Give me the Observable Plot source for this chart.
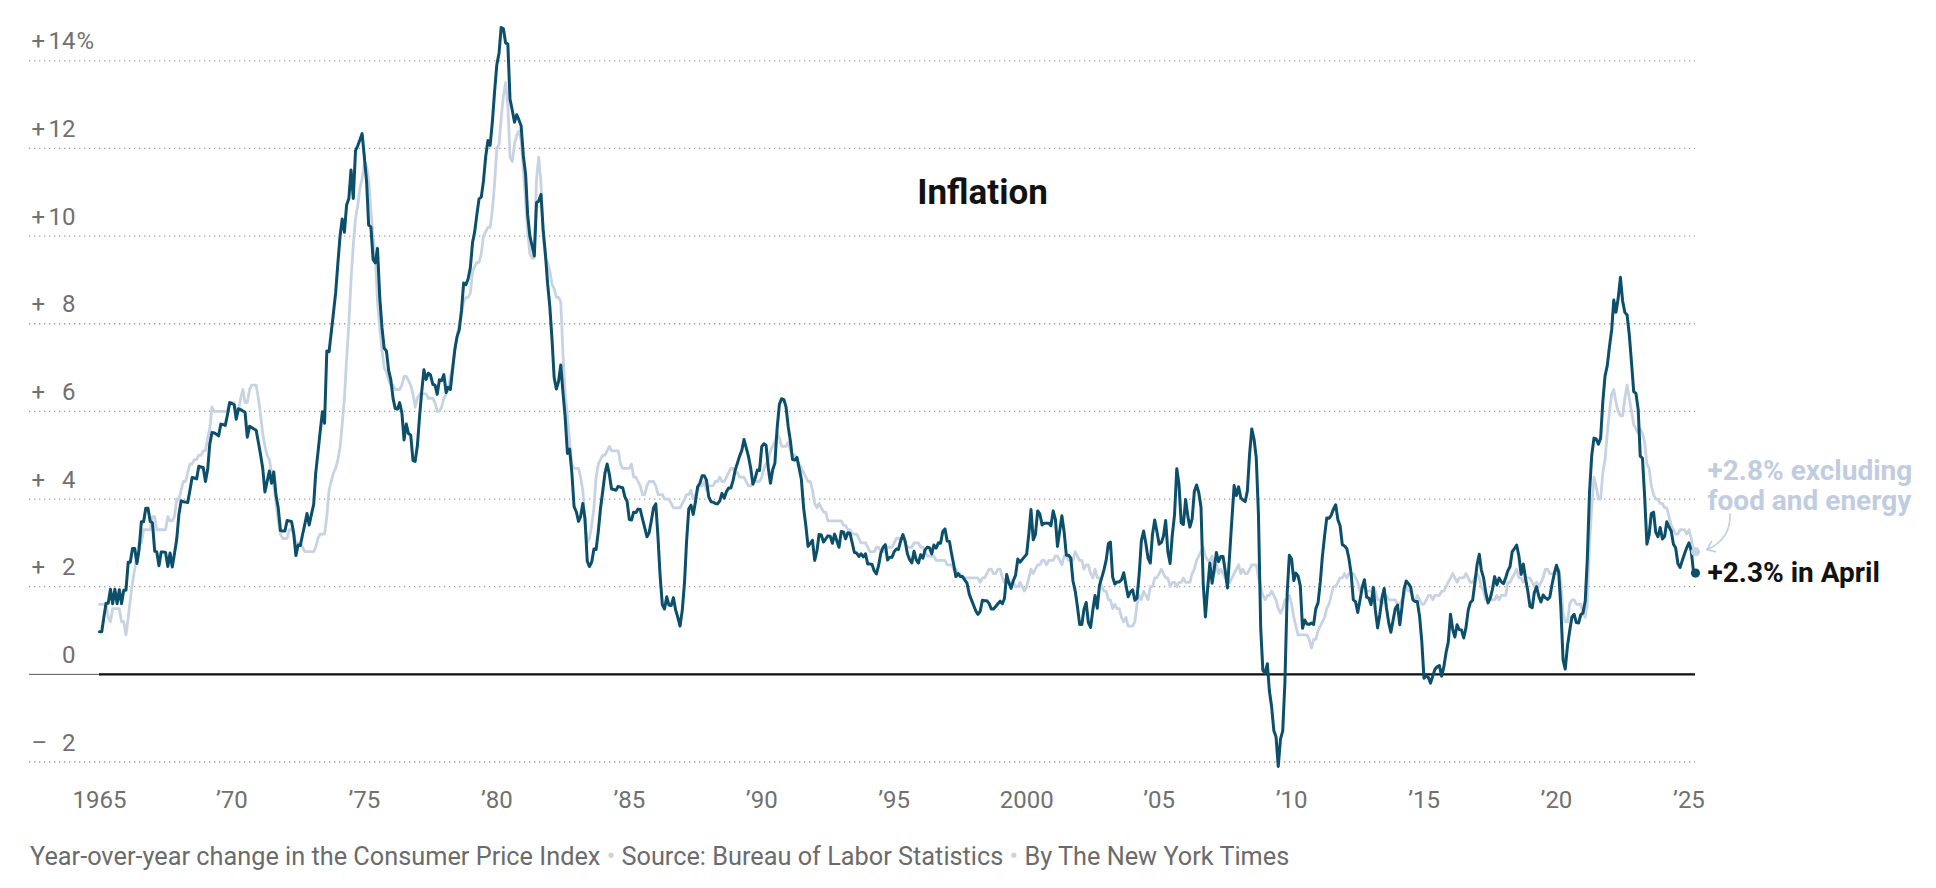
<!DOCTYPE html>
<html>
<head>
<meta charset="utf-8">
<script src="https://cdn.jsdelivr.net/npm/d3@7"></script>
<script src="https://cdn.jsdelivr.net/npm/@observablehq/plot@0.6"></script>
<style>
  body { margin: 0; background: #fff; font-family: Roboto, "Noto Sans", sans-serif; }
  #wrap { position: relative; width: 1936px; height: 888px; overflow: hidden; }
  #chart svg { display: block; }
  #caption { position: absolute; left: 30px; top: 844px; font-size: 25.3px; line-height: 25px; color: #6b6b6b; white-space: nowrap; }
  #caption .sep { color: #d2d2d2; }
</style>
</head>
<body>
<div id="wrap">
  <div id="chart"></div>
  <div id="caption">Year-over-year change in the Consumer Price Index <span class="sep">•</span> Source: Bureau of Labor Statistics <span class="sep">•</span> By The New York Times</div>
</div>
<script>
// ---- Data: monthly year-over-year change (%), starting January 1965 ----
const startYear = 1965;
const lastMonthName = "April";

const headline = [
  0.97,0.97,1.29,1.62,1.62,1.94,1.61,1.94,1.61,1.93,1.61,1.92,
  1.92,2.56,2.56,2.87,2.87,2.53,2.85,3.48,3.48,3.79,3.79,3.49,
  3.46,2.81,2.80,2.48,2.79,2.79,2.78,2.46,2.77,2.45,2.76,3.07,
  3.65,3.96,3.94,3.93,3.92,4.20,4.49,4.48,4.46,4.75,4.73,4.72,
  4.40,4.68,5.25,5.52,5.51,5.48,5.44,5.71,5.70,5.68,5.93,6.20,
  6.18,6.15,5.82,6.06,6.04,6.01,5.98,5.41,5.66,5.63,5.60,5.57,
  5.29,5.00,4.71,4.16,4.40,4.64,4.36,4.62,4.08,3.80,3.28,3.27,
  3.27,3.51,3.50,3.49,3.23,2.71,2.95,2.94,3.19,3.42,3.67,3.41,
  3.65,3.88,4.59,5.06,5.53,5.99,5.73,7.38,7.36,7.80,8.25,8.71,
  9.39,10.02,10.39,10.09,10.71,10.86,11.51,10.86,11.95,12.06,12.20,12.34,
  11.80,11.23,10.25,10.21,9.47,9.39,9.72,8.60,7.91,7.44,7.38,6.94,
  6.72,6.29,6.07,6.05,6.20,5.97,5.35,5.71,5.49,5.46,4.88,4.86,
  5.22,5.91,6.44,6.95,6.73,6.87,6.83,6.62,6.60,6.39,6.72,6.70,
  6.84,6.43,6.55,6.50,6.96,7.41,7.70,7.86,8.31,8.93,8.89,9.02,
  9.28,9.86,10.09,10.49,10.85,10.89,11.26,11.82,12.18,12.07,12.61,13.29,
  13.91,14.18,14.76,14.73,14.41,14.38,13.13,12.87,12.60,12.77,12.65,12.52,
  11.83,11.41,10.49,10.00,9.78,9.55,10.76,10.80,10.95,10.14,9.59,8.92,
  8.39,7.62,6.78,6.51,6.68,7.06,6.44,5.85,5.04,5.14,4.59,3.83,
  3.71,3.49,3.60,3.90,3.55,2.58,2.46,2.56,2.86,2.85,3.27,3.79,
  4.19,4.60,4.80,4.56,4.23,4.22,4.20,4.29,4.27,4.26,4.05,3.95,
  3.53,3.52,3.70,3.69,3.77,3.76,3.55,3.35,3.14,3.23,3.51,3.80,
  3.89,3.11,2.26,1.59,1.49,1.77,1.58,1.57,1.75,1.47,1.30,1.10,
  1.46,2.10,3.03,3.78,3.86,3.65,3.93,4.28,4.36,4.53,4.53,4.43,
  4.05,3.94,3.93,3.90,3.89,3.96,4.13,4.02,4.17,4.25,4.25,4.42,
  4.67,4.83,4.98,5.11,5.36,5.17,4.98,4.71,4.34,4.47,4.66,4.65,
  5.20,5.26,5.23,4.71,4.36,4.67,4.82,5.62,6.16,6.29,6.27,6.11,
  5.65,5.31,4.90,4.89,4.95,4.70,4.45,3.80,3.39,2.92,2.99,3.06,
  2.60,2.82,3.19,3.18,3.02,3.09,3.16,3.15,2.99,3.20,3.05,2.90,
  3.26,3.25,3.09,3.23,3.22,3.00,2.78,2.77,2.69,2.75,2.68,2.75,
  2.52,2.52,2.51,2.36,2.29,2.49,2.77,2.90,2.96,2.61,2.67,2.67,
  2.80,2.86,2.85,3.05,3.19,3.04,2.76,2.62,2.54,2.81,2.61,2.54,
  2.73,2.65,2.84,2.90,2.89,2.75,2.95,2.88,3.00,2.99,3.26,3.32,
  3.04,3.03,2.76,2.50,2.23,2.30,2.23,2.23,2.15,2.08,1.83,1.70,
  1.57,1.44,1.37,1.44,1.69,1.68,1.68,1.62,1.49,1.49,1.55,1.61,
  1.67,1.61,1.73,2.28,2.09,1.96,2.14,2.26,2.63,2.56,2.62,2.68,
  2.74,3.22,3.76,3.07,3.19,3.73,3.66,3.41,3.45,3.45,3.45,3.39,
  3.73,3.53,2.92,3.27,3.62,3.25,2.72,2.72,2.65,2.13,1.90,1.55,
  1.14,1.14,1.48,1.64,1.18,1.07,1.46,1.80,1.51,2.03,2.20,2.38,
  2.60,2.98,3.02,2.22,2.06,2.11,2.11,2.16,2.32,2.04,1.77,1.88,
  1.93,1.69,1.74,2.29,3.05,3.27,2.99,2.65,2.54,3.19,3.52,3.26,
  2.97,3.01,3.15,3.51,2.80,2.53,3.17,3.64,4.69,4.35,3.46,3.42,
  3.99,3.60,3.36,3.55,4.17,4.32,4.15,3.82,2.06,1.31,1.97,2.54,
  2.08,2.42,2.78,2.57,2.69,2.69,2.36,1.97,2.76,3.54,4.31,4.08,
  4.28,4.03,3.98,3.94,4.18,5.02,5.60,5.37,4.94,3.66,1.07,0.09,
  0.03,0.24,-0.38,-0.74,-1.28,-1.43,-2.10,-1.48,-1.29,-0.18,1.84,2.72,
  2.63,2.14,2.31,2.24,2.02,1.05,1.24,1.15,1.14,1.17,1.14,1.50,
  1.63,2.11,2.68,3.16,3.57,3.56,3.63,3.77,3.87,3.53,3.39,2.96,
  2.93,2.87,2.65,2.30,1.70,1.66,1.41,1.69,1.99,2.16,1.76,1.74,
  1.59,1.98,1.47,1.06,1.36,1.75,1.96,1.52,1.18,0.96,1.24,1.50,
  1.58,1.13,1.51,1.95,2.13,2.07,1.99,1.70,1.66,1.66,1.32,0.76,
  -0.09,-0.03,-0.07,-0.20,-0.04,0.12,0.17,0.20,-0.04,0.17,0.50,0.73,
  1.37,1.02,0.85,1.13,1.02,1.01,0.83,1.06,1.46,1.64,1.69,2.07,
  2.50,2.74,2.38,2.20,1.87,1.63,1.73,1.94,2.23,2.04,2.20,2.11,
  2.07,2.21,2.36,2.46,2.80,2.87,2.95,2.70,2.28,2.52,2.18,1.91,
  1.55,1.52,1.86,2.00,1.79,1.65,1.81,1.75,1.71,1.76,2.05,2.29,
  2.49,2.33,1.54,0.33,0.12,0.65,0.99,1.31,1.37,1.18,1.17,1.36,
  1.40,1.68,2.62,4.16,4.99,5.39,5.37,5.25,5.39,6.22,6.81,7.04,
  7.48,7.87,8.54,8.26,8.58,9.06,8.52,8.26,8.20,7.75,7.11,6.45,
  6.41,6.04,4.98,4.93,4.05,2.97,3.18,3.67,3.70,3.24,3.14,3.35,
  3.09,3.15,3.48,3.36,3.27,2.97,2.89,2.53,2.44,2.60,2.75,2.89,
  3.00,2.82,2.39,2.31
];

const core = [
  1.6,1.6,1.6,1.6,1.3,1.2,1.5,1.5,1.5,1.5,1.2,1.2,
  0.9,1.3,1.7,2.1,2.4,2.7,3.0,3.0,3.3,3.3,3.3,3.3,
  3.6,3.6,3.3,3.3,3.3,3.3,3.3,3.6,3.5,3.5,3.6,4.0,
  4.0,4.2,4.4,4.4,4.6,4.8,4.8,4.9,4.9,5.0,5.0,5.1,
  5.1,5.4,5.6,6.1,6.0,6.0,6.0,6.0,6.0,6.0,6.0,6.2,
  6.2,6.2,6.0,6.0,6.3,6.5,6.2,6.2,6.5,6.6,6.6,6.6,
  6.3,5.9,5.5,5.2,5.0,4.9,4.6,4.3,3.9,3.5,3.2,3.1,
  3.1,3.1,3.3,3.3,3.2,3.0,3.0,3.0,2.9,2.8,2.8,2.8,
  2.8,2.8,2.9,3.1,3.2,3.2,3.2,3.6,4.2,4.4,4.6,4.7,
  4.9,5.2,5.7,6.3,7.2,8.0,9.0,9.8,10.4,10.7,11.1,11.3,
  11.7,11.6,11.3,10.6,10.0,9.5,8.5,7.9,7.4,7.0,6.9,6.7,
  6.6,6.6,6.5,6.5,6.5,6.6,6.8,6.8,6.7,6.6,6.4,6.1,
  6.3,6.4,6.4,6.4,6.4,6.3,6.3,6.3,6.2,6.0,6.0,6.1,
  6.3,6.4,6.5,6.8,7.0,7.4,7.7,8.0,8.2,8.5,8.6,8.6,
  8.7,9.2,9.3,9.4,9.4,9.6,10.0,10.1,10.2,10.2,10.6,11.2,
  12.0,12.1,12.7,13.2,13.5,13.0,11.8,11.7,12.1,12.3,12.4,12.2,
  11.5,10.8,10.1,9.6,9.5,9.5,11.3,11.8,11.2,10.0,9.5,9.4,
  9.2,8.9,8.8,8.6,8.6,8.5,7.3,6.4,5.9,5.3,4.8,4.7,
  4.7,4.7,4.5,4.2,3.4,3.0,3.1,3.4,3.8,4.5,4.8,4.9,
  5.0,5.0,5.1,5.2,5.1,5.1,5.1,5.1,4.8,4.7,4.7,4.7,
  4.7,4.8,4.5,4.5,4.4,4.3,4.1,4.1,4.3,4.4,4.4,4.4,
  4.3,4.1,4.1,4.1,4.0,4.0,4.0,3.9,3.8,3.8,3.8,3.8,
  3.9,4.0,4.1,4.1,4.2,4.0,4.1,4.2,4.3,4.3,4.4,4.2,
  4.3,4.3,4.3,4.4,4.4,4.5,4.4,4.4,4.5,4.6,4.7,4.7,
  4.6,4.6,4.5,4.5,4.5,4.4,4.3,4.3,4.4,4.4,4.4,4.4,
  4.5,4.7,4.8,4.9,5.1,5.2,5.3,5.5,5.4,5.2,5.2,5.2,
  5.3,5.1,5.0,5.0,4.9,4.8,4.7,4.6,4.5,4.4,4.4,4.2,
  3.9,3.8,3.9,3.8,3.7,3.7,3.5,3.5,3.5,3.5,3.5,3.5,
  3.5,3.4,3.4,3.3,3.3,3.2,3.2,3.2,3.1,3.0,3.0,3.0,
  2.9,2.8,2.8,2.8,2.9,2.9,2.8,2.8,2.8,2.9,2.9,2.9,
  3.0,3.1,3.1,3.1,3.1,3.0,2.9,2.9,2.9,3.0,3.0,3.0,
  2.9,2.9,2.8,2.7,2.7,2.7,2.7,2.6,2.6,2.6,2.6,2.6,
  2.5,2.5,2.5,2.4,2.4,2.3,2.3,2.2,2.2,2.2,2.2,2.2,
  2.2,2.2,2.2,2.1,2.2,2.2,2.3,2.4,2.4,2.3,2.3,2.4,
  2.4,2.2,2.1,2.2,2.1,2.1,2.1,2.0,2.0,2.1,2.0,1.9,
  2.0,2.2,2.4,2.3,2.4,2.5,2.5,2.6,2.6,2.5,2.6,2.6,
  2.6,2.7,2.7,2.6,2.5,2.7,2.7,2.6,2.6,2.6,2.8,2.7,
  2.6,2.6,2.4,2.5,2.5,2.3,2.2,2.4,2.2,2.2,2.0,1.9,
  1.9,1.7,1.7,1.5,1.6,1.5,1.5,1.3,1.2,1.3,1.1,1.1,
  1.1,1.2,1.6,1.8,1.7,1.9,1.8,1.7,2.0,2.0,2.2,2.2,
  2.3,2.4,2.3,2.2,2.2,2.0,2.1,2.1,2.0,2.1,2.1,2.2,
  2.1,2.1,2.1,2.3,2.4,2.6,2.7,2.8,2.9,2.7,2.6,2.6,
  2.7,2.3,2.5,2.3,2.4,2.3,2.2,2.1,2.1,2.2,2.3,2.4,
  2.5,2.3,2.4,2.3,2.3,2.4,2.5,2.5,2.5,2.2,2.0,1.8,
  1.7,1.8,1.8,1.9,1.8,1.7,1.5,1.4,1.5,1.7,1.7,1.8,
  1.6,1.3,1.1,0.9,0.9,0.9,0.9,0.9,0.8,0.6,0.8,0.8,
  1.0,1.1,1.2,1.3,1.5,1.6,1.8,2.0,2.0,2.1,2.2,2.2,
  2.3,2.2,2.3,2.3,2.3,2.2,2.1,1.9,2.0,2.0,1.9,1.9,
  1.9,2.0,1.9,1.7,1.7,1.6,1.7,1.8,1.7,1.7,1.7,1.7,
  1.6,1.6,1.7,1.8,2.0,1.9,1.9,1.7,1.7,1.8,1.7,1.6,
  1.6,1.7,1.8,1.8,1.7,1.8,1.8,1.8,1.9,1.9,2.0,2.1,
  2.2,2.3,2.2,2.1,2.2,2.2,2.2,2.3,2.2,2.1,2.1,2.2,
  2.3,2.2,2.0,1.9,1.7,1.7,1.7,1.7,1.7,1.8,1.7,1.8,
  1.8,1.8,2.1,2.1,2.2,2.3,2.4,2.2,2.2,2.1,2.2,2.2,
  2.2,2.1,2.0,2.1,2.0,2.1,2.2,2.4,2.4,2.3,2.3,2.3,
  2.3,2.4,2.1,1.4,1.2,1.2,1.6,1.7,1.7,1.6,1.6,1.6,
  1.4,1.3,1.6,3.0,3.8,4.5,4.3,4.0,4.0,4.6,4.9,5.5,
  6.0,6.4,6.5,6.2,6.0,5.9,5.9,6.3,6.6,6.3,6.0,5.7,
  5.6,5.5,5.6,5.5,5.3,4.8,4.7,4.3,4.1,4.0,4.0,3.9,
  3.9,3.8,3.8,3.6,3.4,3.3,3.2,3.2,3.3,3.3,3.3,3.2,
  3.3,3.1,2.8,2.8
];

// ---- Axis ticks ----
const yTicks = [-2, 0, 2, 4, 6, 8, 10, 12, 14];
const yTickSigns = ["–", "", "+", "+", "+", "+", "+", "+", "+"];
const yTickNumbers = ["2", "0", "2", "4", "6", "8", "10", "12", "14"];
const xTickYears = [1965, 1970, 1975, 1980, 1985, 1990, 1995, 2000, 2005, 2010, 2015, 2020, 2025];
const xTickLabels = ["1965", "’70", "’75", "’80", "’85", "’90", "’95", "2000", "’05", "’10", "’15", "’20", "’25"];

// ---- Build table ----
const rows = headline.map((v, i) => ({
  date: new Date(Date.UTC(startYear, i, 1)),
  headline: v,
  core: core[i]
}));
const last = rows[rows.length - 1];
const xTicks = xTickYears.map((y, i) => ({date: new Date(Date.UTC(y, 0, 1)), label: xTickLabels[i]}));

const darkColor = "#0b4f6b";
const lightColor = "#c7d3e3";
const axisGray = "#707070";

const W = 1936, H = 840;
const chart = Plot.plot({
  width: W,
  height: H,
  marginLeft: 29,
  marginRight: W - 1695,
  marginTop: 60.3,
  marginBottom: H - 761.5,
  x: {type: "utc", domain: [rows[0].date, last.date], range: [99, 1695], axis: null},
  y: {domain: [-2, 14], axis: null},
  style: {fontFamily: "Roboto, 'Noto Sans', sans-serif", background: "white", overflow: "visible"},
  marks: [
    // dotted gridlines
    Plot.ruleY(yTicks.filter(d => d !== 0), {stroke: "#9c9c9c", strokeWidth: 1.3, strokeDasharray: "1.3 3.7"}),
    // zero line: thin part spanning the frame, thick baseline under the data
    Plot.ruleY([0], {stroke: "#555", strokeWidth: 1}),
    Plot.ruleY([0], {x1: () => rows[0].date, x2: () => last.date, stroke: "#111", strokeWidth: 2.2}),
    // y tick labels
    Plot.text(yTicks, {y: d => d, text: (d, i) => yTickSigns[i], frameAnchor: "left", lineAnchor: "middle", dx: 2, dy: -19, textAnchor: "start", fontSize: 24, fill: axisGray}),
    Plot.text(yTicks, {y: d => d, text: (d, i) => yTickNumbers[i], frameAnchor: "left", lineAnchor: "middle", dx: 46, dy: -19, textAnchor: "end", fontSize: 24, fill: axisGray}),
    Plot.text([yTicks[yTicks.length - 1]], {y: d => d, text: () => "%", frameAnchor: "left", lineAnchor: "middle", dx: 47, dy: -19, textAnchor: "start", fontSize: 24, fill: axisGray}),
    // x tick labels
    Plot.text(xTicks, {x: "date", text: "label", frameAnchor: "bottom", lineAnchor: "middle", dy: 38, textAnchor: "middle", fontSize: 24, fill: axisGray}),
    // series
    Plot.lineY(rows, {x: "date", y: "core", stroke: lightColor, strokeWidth: 2.8}),
    Plot.lineY(rows, {x: "date", y: "headline", stroke: darkColor, strokeWidth: 3}),
    Plot.dot([last], {x: "date", y: "core", r: 4.6, fill: lightColor}),
    Plot.dot([last], {x: "date", y: "headline", r: 4.6, fill: darkColor}),
    // labels
    Plot.text([last], {x: "date", y: "headline", text: d => `+${d.headline.toFixed(1)}% in ${lastMonthName}`, dx: 12, textAnchor: "start", lineAnchor: "middle", fontSize: 28, fontWeight: 700, fill: "#121212"}),
    Plot.text([last], {x: "date", y: "core", text: d => `+${d.core.toFixed(1)}% excluding\nfood and energy`, dx: 12, dy: -93, lineAnchor: "top", lineHeight: 1.07, textAnchor: "start", fontSize: 28, fontWeight: 700, fill: "#c0cde0"}),
    // title
    Plot.text(["Inflation"], {text: d => d, frameAnchor: "top-left", lineAnchor: "middle", dx: 953, dy: 132, textAnchor: "middle", fontSize: 35, fontWeight: 700, fill: "#121212"})
  ]
});

document.getElementById("chart").appendChild(chart);

// curved annotation arrow from the core label to the core end point
const sx = chart.scale("x"), sy = chart.scale("y");
const px = sx.apply(last.date), py = sy.apply(last.core);
const svg = d3.select(chart);
const tip = [px + 12, py - 1.5];
svg.append("path")
  .attr("d", `M${px + 35},${py - 37} Q${px + 36},${py - 12} ${tip[0]},${tip[1]}`)
  .attr("fill", "none").attr("stroke", "#c3cfe0").attr("stroke-width", 1.7).attr("stroke-linecap", "round");
svg.append("path")
  .attr("d", `M${px + 16.5},${py - 9.5} L${tip[0]},${tip[1]} L${px + 20.5},${py + 0.5}`)
  .attr("fill", "none").attr("stroke", "#c3cfe0").attr("stroke-width", 1.7).attr("stroke-linecap", "round").attr("stroke-linejoin", "round");
</script>
</body>
</html>
